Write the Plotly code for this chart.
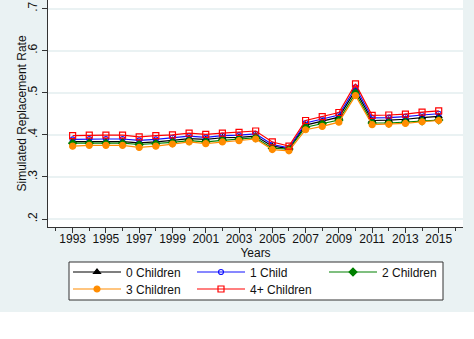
import plotly.graph_objects as go

years = list(range(1993, 2016))

children0 = [0.384, 0.384, 0.384, 0.384, 0.381, 0.383, 0.387, 0.391, 0.389, 0.393, 0.394, 0.397,
             0.373, 0.367, 0.423, 0.432, 0.442, 0.506, 0.434, 0.435, 0.437, 0.441, 0.444]
child1 = [0.389, 0.390, 0.390, 0.390, 0.387, 0.389, 0.393, 0.397, 0.394, 0.398, 0.399, 0.402,
          0.377, 0.369, 0.428, 0.437, 0.447, 0.513, 0.440, 0.441, 0.443, 0.447, 0.450]
children2 = [0.380, 0.380, 0.380, 0.380, 0.377, 0.379, 0.382, 0.386, 0.383, 0.387, 0.390, 0.393,
             0.368, 0.366, 0.418, 0.426, 0.435, 0.499, 0.428, 0.428, 0.430, 0.433, 0.435]
children3 = [0.373, 0.375, 0.375, 0.375, 0.370, 0.373, 0.378, 0.383, 0.379, 0.383, 0.386, 0.390,
             0.365, 0.362, 0.412, 0.420, 0.430, 0.493, 0.424, 0.425, 0.427, 0.431, 0.434]
children4p = [0.398, 0.399, 0.399, 0.399, 0.395, 0.398, 0.400, 0.404, 0.401, 0.404, 0.406, 0.409,
              0.383, 0.373, 0.434, 0.443, 0.453, 0.521, 0.446, 0.447, 0.449, 0.454, 0.457]

series_names = ["0 Children", "1 Child", "2 Children", "3 Children", "4+ Children"]
x_tick_years = list(range(1993, 2016, 2))
x_minor_years = list(range(1992, 2017, 2))
y_ticks = [0.2, 0.3, 0.4, 0.5, 0.6, 0.7]
y_tick_labels = [".2", ".3", ".4", ".5", ".6", ".7"]

styles = [
    dict(color="#000000", symbol="triangle-up", size=6),
    dict(color="#1010FF", symbol="circle-open", size=5),
    dict(color="#008000", symbol="diamond", size=6),
    dict(color="#FF8C00", symbol="circle", size=6),
    dict(color="#FF0000", symbol="square-open", size=6),
]

BG = "#EAF2F3"
W, H = 474, 339
L, R, T, B = 48, 11, 0, 112
pw, ph = W - L - R, H - T - B


def px_x(x):
    return (x - L) / pw


def px_y(y):
    return (H - B - y) / ph


# legend key grid: three columns, two rows (pixel positions of each key)
legend_cols = [68, 192, 324]
legend_rows = [272, 289]
legend_ids = ["legend", "legend2", "legend3", "legend4", "legend5"]

fig = go.Figure()
for i, (name, vals, st) in enumerate(zip(series_names,
                                         [children0, child1, children2, children3, children4p],
                                         styles)):
    fig.add_trace(go.Scatter(
        x=years, y=vals, name=name, mode="lines+markers", legend=legend_ids[i],
        line=dict(color=st["color"], width=1.2),
        marker=dict(symbol=st["symbol"], size=st["size"], color=st["color"],
                    line=dict(color=st["color"], width=1.2)),
    ))

# white strip under the graph region
fig.add_shape(type="rect", xref="paper", yref="paper",
              x0=px_x(0), x1=px_x(W), y0=px_y(312), y1=px_y(H) - 0.01,
              fillcolor="white", line=dict(width=0), layer="below")

# legend frame
fig.add_shape(type="rect", xref="paper", yref="paper",
              x0=px_x(69), x1=px_x(443), y0=px_y(300), y1=px_y(262),
              fillcolor="white", line=dict(color="#333333", width=1), layer="above")

# rotated y-axis title
fig.add_annotation(text="Simulated Replacement Rate", xref="paper", yref="paper",
                   x=px_x(21), y=0.5, textangle=-90, showarrow=False,
                   xanchor="center", yanchor="middle", font=dict(size=12, color="#111111"))

legend_layout = {}
for i, lid in enumerate(legend_ids):
    col, row = i % 3, i // 3
    legend_layout[lid] = dict(
        x=px_x(legend_cols[col]), xanchor="left",
        y=px_y(legend_rows[row]), yanchor="middle",
        bgcolor="rgba(0,0,0,0)", borderwidth=0, itemwidth=48,
        font=dict(size=12, color="#111111"),
    )

fig.update_layout(
    width=W, height=H,
    margin=dict(l=L, r=R, t=T, b=B),
    paper_bgcolor=BG, plot_bgcolor="white",
    font=dict(family="Liberation Sans, Arial, sans-serif", size=12, color="#111111"),
    showlegend=True,
    **legend_layout,
    xaxis=dict(
        range=[1991.52, 2016.46], tickvals=x_tick_years,
        ticktext=[str(y) for y in x_tick_years],
        ticks="outside", ticklen=5, tickcolor="#333333",
        showline=True, linecolor="#333333", linewidth=1,
        showgrid=False, zeroline=False,
        minor=dict(tickvals=x_minor_years, ticks="outside", ticklen=3, tickcolor="#333333"),
        ticklabelstandoff=-4,
        title=dict(text="Years", standoff=0, font=dict(size=12)),
        tickfont=dict(size=12),
    ),
    yaxis=dict(
        range=[0.181, 0.7202], tickvals=y_ticks, ticktext=y_tick_labels,
        tickangle=-90, ticklabeloverflow="allow",
        ticks="outside", ticklen=5, tickcolor="#333333",
        showline=True, linecolor="#333333", linewidth=1,
        showgrid=True, gridcolor=BG, gridwidth=1.5, zeroline=False,
        tickfont=dict(size=12),
    ),
)

fig.write_html("out.html")
